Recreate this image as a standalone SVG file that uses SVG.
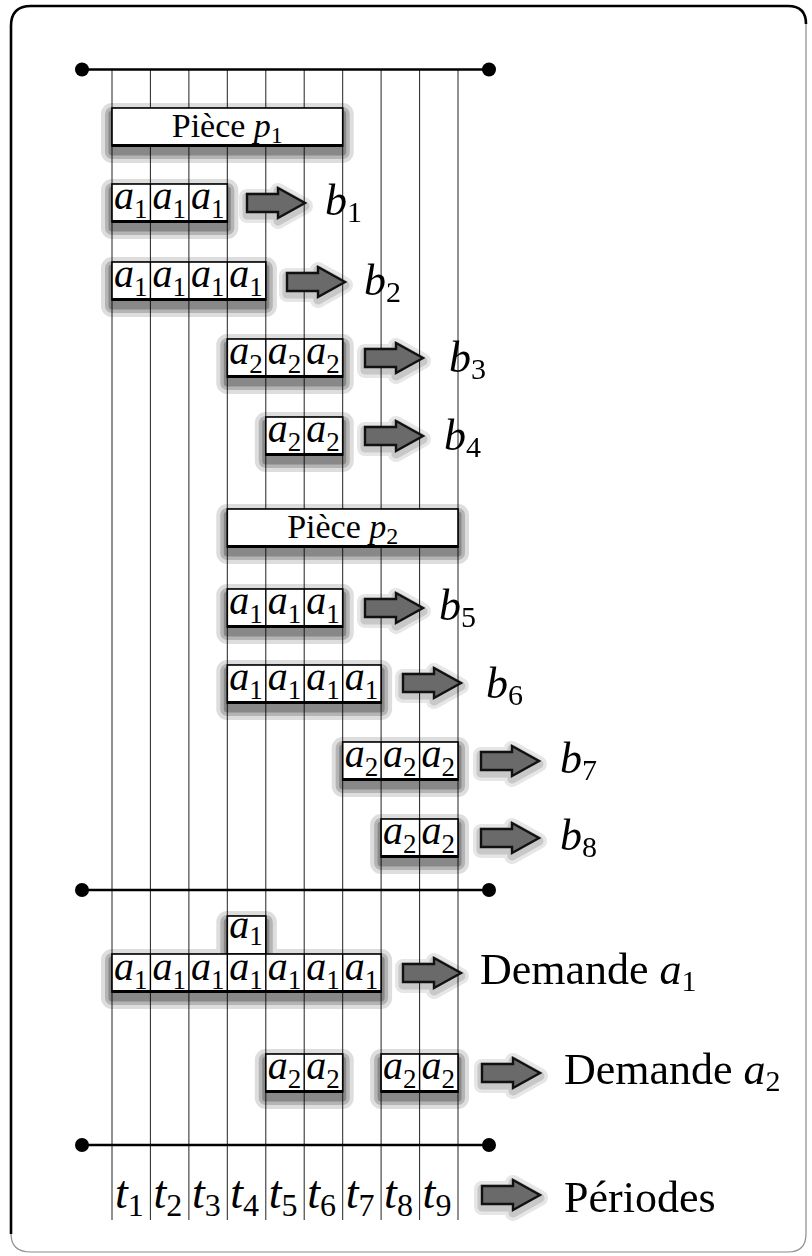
<svg xmlns="http://www.w3.org/2000/svg" width="812" height="1256" viewBox="0 0 812 1256">
<style>
.grid{stroke:#222;stroke-width:1;fill:none}
.hl{stroke:#000;stroke-width:2.4;fill:none}
.dot{fill:#000}
.box{fill:#fff;stroke:#000;stroke-width:1.6}
.s1{fill:#000;stroke:#000;stroke-width:22;stroke-linejoin:round;opacity:0.13}
.s2{fill:#000;stroke:#000;stroke-width:14;stroke-linejoin:round;opacity:0.18}
.s3{fill:#000;stroke:#000;stroke-width:7;stroke-linejoin:round;opacity:0.24}
.a1{fill:#000;stroke:#000;stroke-width:16;stroke-linejoin:round;opacity:0.1}
.a2{fill:#000;stroke:#000;stroke-width:9;stroke-linejoin:round;opacity:0.13}
.bot{stroke:#000;stroke-width:3}
.div{stroke:#000;stroke-width:1.4}
.m{font-family:"Liberation Serif",serif;font-style:italic;font-size:40px;fill:#000}
.s{font-style:normal;font-size:27px}
.r{font-family:"Liberation Serif",serif;font-size:34px;fill:#000}
.sr{font-size:24px}
.lb{font-family:"Liberation Serif",serif;font-style:italic;font-size:44px;fill:#000}
.ls{font-style:normal;font-size:30px}
.big{font-family:"Liberation Serif",serif;font-size:44px;fill:#000}
.bi{font-style:italic}
.bs{font-style:normal;font-size:30px}
.t{font-family:"Liberation Serif",serif;font-style:italic;font-size:46px;fill:#000}
.ts{font-style:normal;font-size:32px}
.arr{fill:#6a6a6a;stroke:#111;stroke-width:2.4;stroke-linejoin:miter}
</style>
<defs>
<path id="arrow" d="M0,-9 H31 V-15 L58,0 L31,15 V9 H0 Z"/>
<rect id="g-p1" x="112" y="108" width="230.7" height="38"/>
<rect id="g-b1" x="112" y="184" width="115.3" height="38"/>
<rect id="g-b2" x="112" y="262" width="153.8" height="38"/>
<rect id="g-b3" x="227.3" y="339" width="115.4" height="38"/>
<rect id="g-b4" x="265.8" y="417" width="76.9" height="38"/>
<rect id="g-p2" x="227.3" y="509" width="230.7" height="38"/>
<rect id="g-b5" x="227.3" y="589" width="115.4" height="38"/>
<rect id="g-b6" x="227.3" y="665" width="153.8" height="38"/>
<rect id="g-b7" x="342.7" y="742" width="115.3" height="38"/>
<rect id="g-b8" x="381.1" y="819" width="76.9" height="38"/>
<rect id="g-d1s" x="227.3" y="916" width="38.5" height="38"/>
<rect id="g-d1" x="112" y="954" width="269.1" height="38"/>
<rect id="g-d2a" x="265.8" y="1054" width="76.9" height="38"/>
<rect id="g-d2b" x="381.1" y="1054" width="76.9" height="38"/>
</defs>

<g id="frame">
<path d="M11,1234 V26 Q11,6 31,6 H788 Q806,6 806,24" fill="none" stroke="#000" stroke-width="2.6"/>
<path d="M806,24 V1234 Q806,1252 788,1252 H31 Q11,1252 11,1234" fill="none" stroke="#8a8a8a" stroke-width="1.2"/>
</g>

<g id="grid">
<g class="grid">
<line x1="112" y1="69.5" x2="112" y2="1220"/>
<line x1="150.4" y1="69.5" x2="150.4" y2="1220"/>
<line x1="188.9" y1="69.5" x2="188.9" y2="1220"/>
<line x1="227.3" y1="69.5" x2="227.3" y2="1220"/>
<line x1="265.8" y1="69.5" x2="265.8" y2="1220"/>
<line x1="304.2" y1="69.5" x2="304.2" y2="1220"/>
<line x1="342.7" y1="69.5" x2="342.7" y2="1220"/>
<line x1="381.1" y1="69.5" x2="381.1" y2="1220"/>
<line x1="419.6" y1="69.5" x2="419.6" y2="1220"/>
<line x1="458" y1="69.5" x2="458" y2="1220"/>
</g>
<g class="hl">
<line x1="82" y1="69.5" x2="489" y2="69.5"/>
<line x1="82" y1="890" x2="489" y2="890"/>
<line x1="82" y1="1145" x2="489" y2="1145"/>
</g>
<circle class="dot" cx="82" cy="69.5" r="7"/>
<circle class="dot" cx="489" cy="69.5" r="7"/>
<circle class="dot" cx="82" cy="890" r="7"/>
<circle class="dot" cx="489" cy="890" r="7"/>
<circle class="dot" cx="82" cy="1145" r="7"/>
<circle class="dot" cx="489" cy="1145" r="7"/>
</g>

<g id="shadows" transform="translate(0,6)">
<g class="s1">
<use href="#g-p1"/><use href="#g-b1"/><use href="#g-b2"/><use href="#g-b3"/><use href="#g-b4"/><use href="#g-p2"/><use href="#g-b5"/><use href="#g-b6"/><use href="#g-b7"/><use href="#g-b8"/><use href="#g-d1s"/><use href="#g-d1"/><use href="#g-d2a"/><use href="#g-d2b"/>
</g>
<g class="s2">
<use href="#g-p1"/><use href="#g-b1"/><use href="#g-b2"/><use href="#g-b3"/><use href="#g-b4"/><use href="#g-p2"/><use href="#g-b5"/><use href="#g-b6"/><use href="#g-b7"/><use href="#g-b8"/><use href="#g-d1s"/><use href="#g-d1"/><use href="#g-d2a"/><use href="#g-d2b"/>
</g>
<g class="s3">
<use href="#g-p1"/><use href="#g-b1"/><use href="#g-b2"/><use href="#g-b3"/><use href="#g-b4"/><use href="#g-p2"/><use href="#g-b5"/><use href="#g-b6"/><use href="#g-b7"/><use href="#g-b8"/><use href="#g-d1s"/><use href="#g-d1"/><use href="#g-d2a"/><use href="#g-d2b"/>
</g>
</g>

<g id="piece-p1">
<use href="#g-p1" class="box"/>
<line class="bot" x1="112" y1="145.5" x2="342.7" y2="145.5"/>
<text class="r" x="227.3" y="136.5" text-anchor="middle">Pièce <tspan font-style="italic">p</tspan><tspan class="sr" dy="6">1</tspan></text>
</g>

<g id="row-b1">
<use href="#g-b1" class="box"/>
<line class="bot" x1="112" y1="221.5" x2="227.3" y2="221.5"/>
<line class="div" x1="150.4" y1="184" x2="150.4" y2="222"/>
<line class="div" x1="188.9" y1="184" x2="188.9" y2="222"/>
<text class="m" x="114" y="208.5">a<tspan class="s" dy="9">1</tspan></text>
<text class="m" x="152.4" y="208.5">a<tspan class="s" dy="9">1</tspan></text>
<text class="m" x="190.9" y="208.5">a<tspan class="s" dy="9">1</tspan></text>
</g>

<g id="row-b2">
<use href="#g-b2" class="box"/>
<line class="bot" x1="112" y1="299.5" x2="265.8" y2="299.5"/>
<line class="div" x1="150.4" y1="262" x2="150.4" y2="300"/>
<line class="div" x1="188.9" y1="262" x2="188.9" y2="300"/>
<line class="div" x1="227.3" y1="262" x2="227.3" y2="300"/>
<text class="m" x="114" y="286.5">a<tspan class="s" dy="9">1</tspan></text>
<text class="m" x="152.4" y="286.5">a<tspan class="s" dy="9">1</tspan></text>
<text class="m" x="190.9" y="286.5">a<tspan class="s" dy="9">1</tspan></text>
<text class="m" x="229.3" y="286.5">a<tspan class="s" dy="9">1</tspan></text>
</g>

<g id="row-b3">
<use href="#g-b3" class="box"/>
<line class="bot" x1="227.3" y1="376.5" x2="342.7" y2="376.5"/>
<line class="div" x1="265.8" y1="339" x2="265.8" y2="377"/>
<line class="div" x1="304.2" y1="339" x2="304.2" y2="377"/>
<text class="m" x="229.3" y="363.5">a<tspan class="s" dy="9">2</tspan></text>
<text class="m" x="267.8" y="363.5">a<tspan class="s" dy="9">2</tspan></text>
<text class="m" x="306.2" y="363.5">a<tspan class="s" dy="9">2</tspan></text>
</g>

<g id="row-b4">
<use href="#g-b4" class="box"/>
<line class="bot" x1="265.8" y1="454.5" x2="342.7" y2="454.5"/>
<line class="div" x1="304.2" y1="417" x2="304.2" y2="455"/>
<text class="m" x="267.8" y="441.5">a<tspan class="s" dy="9">2</tspan></text>
<text class="m" x="306.2" y="441.5">a<tspan class="s" dy="9">2</tspan></text>
</g>

<g id="piece-p2">
<use href="#g-p2" class="box"/>
<line class="bot" x1="227.3" y1="546.5" x2="458" y2="546.5"/>
<text class="r" x="342.7" y="537.5" text-anchor="middle">Pièce <tspan font-style="italic">p</tspan><tspan class="sr" dy="6">2</tspan></text>
</g>

<g id="row-b5">
<use href="#g-b5" class="box"/>
<line class="bot" x1="227.3" y1="626.5" x2="342.7" y2="626.5"/>
<line class="div" x1="265.8" y1="589" x2="265.8" y2="627"/>
<line class="div" x1="304.2" y1="589" x2="304.2" y2="627"/>
<text class="m" x="229.3" y="613.5">a<tspan class="s" dy="9">1</tspan></text>
<text class="m" x="267.8" y="613.5">a<tspan class="s" dy="9">1</tspan></text>
<text class="m" x="306.2" y="613.5">a<tspan class="s" dy="9">1</tspan></text>
</g>

<g id="row-b6">
<use href="#g-b6" class="box"/>
<line class="bot" x1="227.3" y1="702.5" x2="381.1" y2="702.5"/>
<line class="div" x1="265.8" y1="665" x2="265.8" y2="703"/>
<line class="div" x1="304.2" y1="665" x2="304.2" y2="703"/>
<line class="div" x1="342.7" y1="665" x2="342.7" y2="703"/>
<text class="m" x="229.3" y="689.5">a<tspan class="s" dy="9">1</tspan></text>
<text class="m" x="267.8" y="689.5">a<tspan class="s" dy="9">1</tspan></text>
<text class="m" x="306.2" y="689.5">a<tspan class="s" dy="9">1</tspan></text>
<text class="m" x="344.7" y="689.5">a<tspan class="s" dy="9">1</tspan></text>
</g>

<g id="row-b7">
<use href="#g-b7" class="box"/>
<line class="bot" x1="342.7" y1="779.5" x2="458" y2="779.5"/>
<line class="div" x1="381.1" y1="742" x2="381.1" y2="780"/>
<line class="div" x1="419.6" y1="742" x2="419.6" y2="780"/>
<text class="m" x="344.7" y="766.5">a<tspan class="s" dy="9">2</tspan></text>
<text class="m" x="383.1" y="766.5">a<tspan class="s" dy="9">2</tspan></text>
<text class="m" x="421.6" y="766.5">a<tspan class="s" dy="9">2</tspan></text>
</g>

<g id="row-b8">
<use href="#g-b8" class="box"/>
<line class="bot" x1="381.1" y1="856.5" x2="458" y2="856.5"/>
<line class="div" x1="419.6" y1="819" x2="419.6" y2="857"/>
<text class="m" x="383.1" y="843.5">a<tspan class="s" dy="9">2</tspan></text>
<text class="m" x="421.6" y="843.5">a<tspan class="s" dy="9">2</tspan></text>
</g>

<g id="demande-a1">
<use href="#g-d1s" class="box"/>
<text class="m" x="229.3" y="937.5">a<tspan class="s" dy="7.5">1</tspan></text>
<use href="#g-d1" class="box"/>
<line class="bot" x1="112" y1="991.5" x2="381.1" y2="991.5"/>
<line class="div" x1="150.4" y1="954" x2="150.4" y2="992"/>
<line class="div" x1="188.9" y1="954" x2="188.9" y2="992"/>
<line class="div" x1="227.3" y1="954" x2="227.3" y2="992"/>
<line class="div" x1="265.8" y1="954" x2="265.8" y2="992"/>
<line class="div" x1="304.2" y1="954" x2="304.2" y2="992"/>
<line class="div" x1="342.7" y1="954" x2="342.7" y2="992"/>
<text class="m" x="114" y="980">a<tspan class="s" dy="9">1</tspan></text>
<text class="m" x="152.4" y="980">a<tspan class="s" dy="9">1</tspan></text>
<text class="m" x="190.9" y="980">a<tspan class="s" dy="9">1</tspan></text>
<text class="m" x="229.3" y="980">a<tspan class="s" dy="9">1</tspan></text>
<text class="m" x="267.8" y="980">a<tspan class="s" dy="9">1</tspan></text>
<text class="m" x="306.2" y="980">a<tspan class="s" dy="9">1</tspan></text>
<text class="m" x="344.7" y="980">a<tspan class="s" dy="9">1</tspan></text>
</g>

<g id="demande-a2">
<use href="#g-d2a" class="box"/>
<line class="bot" x1="265.8" y1="1091.5" x2="342.7" y2="1091.5"/>
<line class="div" x1="304.2" y1="1054" x2="304.2" y2="1092"/>
<text class="m" x="267.8" y="1078.5">a<tspan class="s" dy="9">2</tspan></text>
<text class="m" x="306.2" y="1078.5">a<tspan class="s" dy="9">2</tspan></text>
<use href="#g-d2b" class="box"/>
<line class="bot" x1="381.1" y1="1091.5" x2="458" y2="1091.5"/>
<line class="div" x1="419.6" y1="1054" x2="419.6" y2="1092"/>
<text class="m" x="383.1" y="1078.5">a<tspan class="s" dy="9">2</tspan></text>
<text class="m" x="421.6" y="1078.5">a<tspan class="s" dy="9">2</tspan></text>
</g>

<g id="periods">
<text class="t" x="115" y="1208">t<tspan class="ts" dy="8">1</tspan></text>
<text class="t" x="153.4" y="1208">t<tspan class="ts" dy="8">2</tspan></text>
<text class="t" x="191.9" y="1208">t<tspan class="ts" dy="8">3</tspan></text>
<text class="t" x="230.3" y="1208">t<tspan class="ts" dy="8">4</tspan></text>
<text class="t" x="268.8" y="1208">t<tspan class="ts" dy="8">5</tspan></text>
<text class="t" x="307.2" y="1208">t<tspan class="ts" dy="8">6</tspan></text>
<text class="t" x="345.7" y="1208">t<tspan class="ts" dy="8">7</tspan></text>
<text class="t" x="384.1" y="1208">t<tspan class="ts" dy="8">8</tspan></text>
<text class="t" x="422.6" y="1208">t<tspan class="ts" dy="8">9</tspan></text>
</g>

<g id="connectors">
<g transform="translate(0,3)">
<g class="a1">
<use href="#arrow" transform="translate(247,203)"/>
<use href="#arrow" transform="translate(287,282)"/>
<use href="#arrow" transform="translate(365,358)"/>
<use href="#arrow" transform="translate(365,436)"/>
<use href="#arrow" transform="translate(365,608)"/>
<use href="#arrow" transform="translate(403,683)"/>
<use href="#arrow" transform="translate(481,761)"/>
<use href="#arrow" transform="translate(481,838)"/>
<use href="#arrow" transform="translate(403,973)"/>
<use href="#arrow" transform="translate(482,1073)"/>
<use href="#arrow" transform="translate(482,1195)"/>
</g>
<g class="a2">
<use href="#arrow" transform="translate(247,203)"/>
<use href="#arrow" transform="translate(287,282)"/>
<use href="#arrow" transform="translate(365,358)"/>
<use href="#arrow" transform="translate(365,436)"/>
<use href="#arrow" transform="translate(365,608)"/>
<use href="#arrow" transform="translate(403,683)"/>
<use href="#arrow" transform="translate(481,761)"/>
<use href="#arrow" transform="translate(481,838)"/>
<use href="#arrow" transform="translate(403,973)"/>
<use href="#arrow" transform="translate(482,1073)"/>
<use href="#arrow" transform="translate(482,1195)"/>
</g>
</g>
<use href="#arrow" class="arr" transform="translate(247,203)"/>
<use href="#arrow" class="arr" transform="translate(287,282)"/>
<use href="#arrow" class="arr" transform="translate(365,358)"/>
<use href="#arrow" class="arr" transform="translate(365,436)"/>
<use href="#arrow" class="arr" transform="translate(365,608)"/>
<use href="#arrow" class="arr" transform="translate(403,683)"/>
<use href="#arrow" class="arr" transform="translate(481,761)"/>
<use href="#arrow" class="arr" transform="translate(481,838)"/>
<use href="#arrow" class="arr" transform="translate(403,973)"/>
<use href="#arrow" class="arr" transform="translate(482,1073)"/>
<use href="#arrow" class="arr" transform="translate(482,1195)"/>
</g>

<g id="labels">
<text class="lb" x="325" y="215">b<tspan class="ls" dy="7">1</tspan></text>
<text class="lb" x="364" y="295">b<tspan class="ls" dy="7">2</tspan></text>
<text class="lb" x="449" y="372">b<tspan class="ls" dy="7">3</tspan></text>
<text class="lb" x="444" y="450">b<tspan class="ls" dy="7">4</tspan></text>
<text class="lb" x="439" y="620">b<tspan class="ls" dy="7">5</tspan></text>
<text class="lb" x="486" y="698">b<tspan class="ls" dy="7">6</tspan></text>
<text class="lb" x="560" y="773">b<tspan class="ls" dy="7">7</tspan></text>
<text class="lb" x="560" y="850">b<tspan class="ls" dy="7">8</tspan></text>
<text class="big" x="480" y="984">Demande <tspan class="bi">a</tspan><tspan class="bs" dy="7">1</tspan></text>
<text class="big" x="564" y="1084">Demande <tspan class="bi">a</tspan><tspan class="bs" dy="7">2</tspan></text>
<text class="big" x="564" y="1212">Périodes</text>
</g>
</svg>
